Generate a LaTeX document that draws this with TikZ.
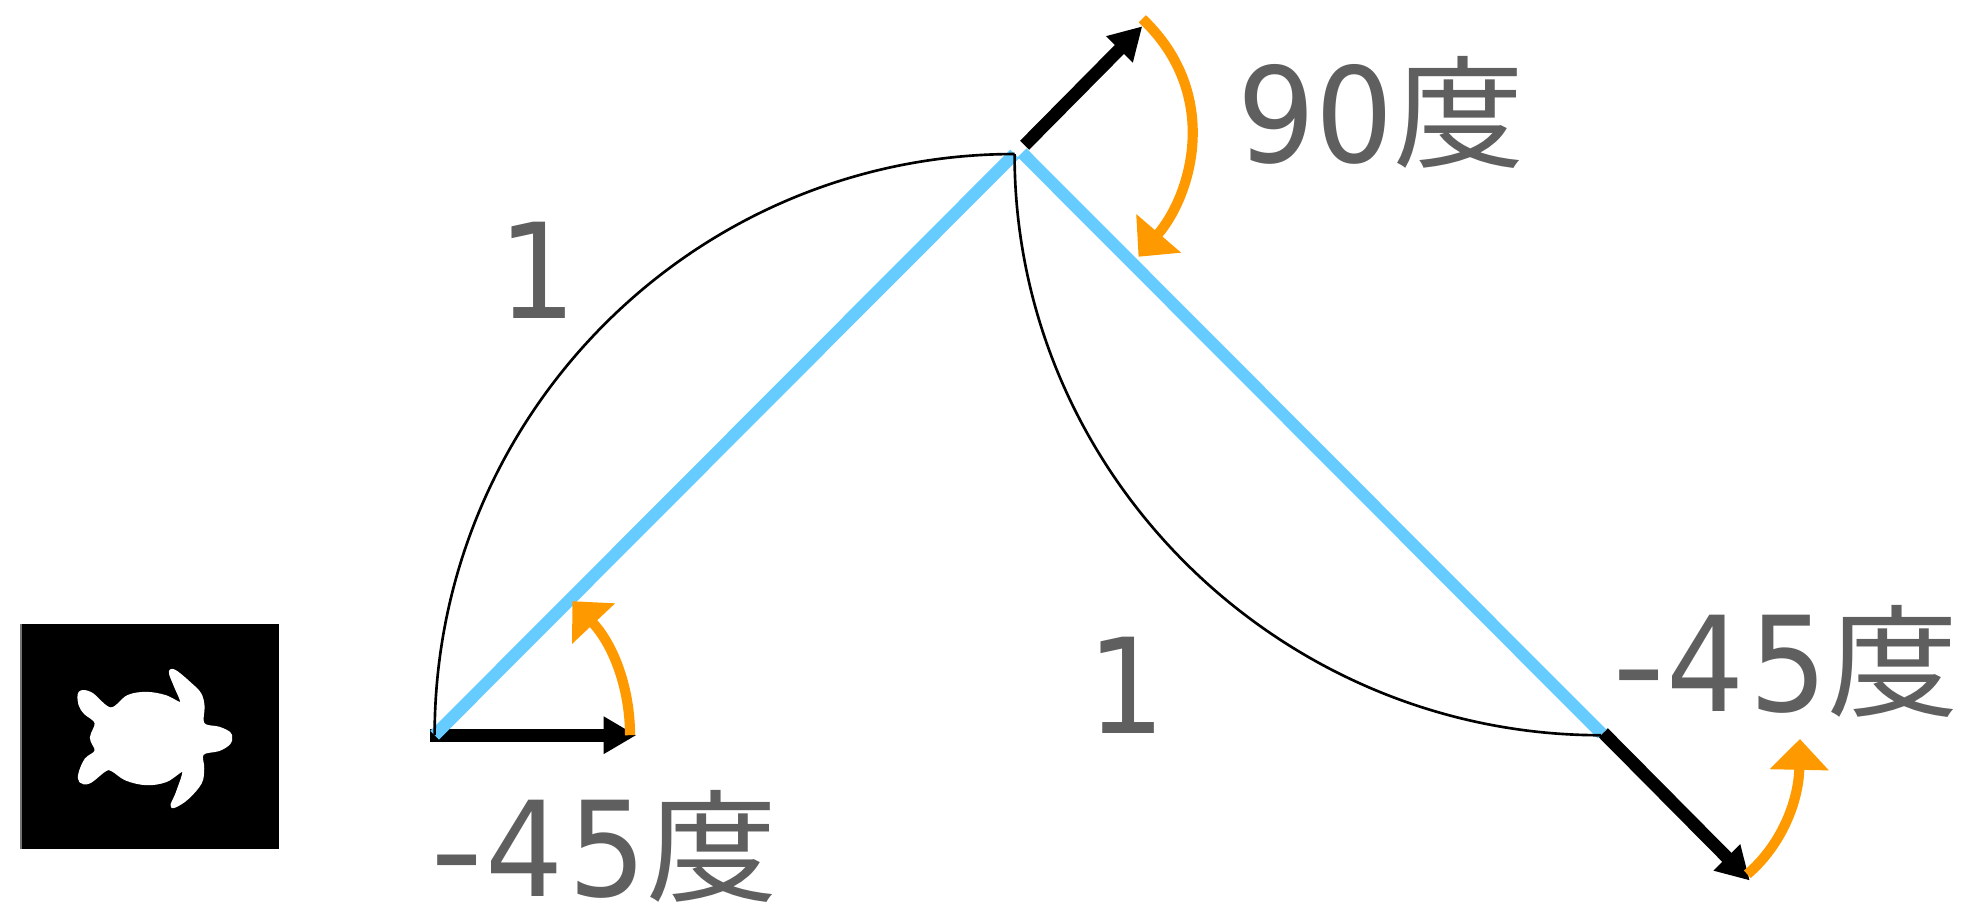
\documentclass[tikz,border=0pt]{standalone}
\usepackage{fontspec}
\usetikzlibrary{arrows.meta}
\newfontfamily\digfont[FakeStretch=0.93]{DejaVu Sans}
\newfontfamily\cjkfont[FakeStretch=1.08]{Noto Sans CJK JP}
\definecolor{labelgray}{HTML}{5F5F5F}
\definecolor{skyline}{HTML}{66CCFF}
\definecolor{orangearc}{HTML}{FF9900}
\newcommand{\dukanji}{{\fontsize{27.6}{30}\cjkfont\smash{\raisebox{0.9pt}{度}}}}
\newcommand{\widehyphen}{\scalebox{1.2}[1]{-}\kern0.3pt}
\tikzset{
  lbl/.style={anchor=base west,inner sep=0pt,outer sep=0pt,text=labelgray,font=\fontsize{30}{36}\digfont},
  skyseg/.style={draw=skyline,line width=2.8pt},
  quarter/.style={draw=black,line width=0.6pt},
  heading/.style={draw=black,line width=2.9pt,-{Triangle[length=7.4pt,width=8pt,fill=black]}},
  turn/.style={draw=orangearc,line width=2.3pt,-{Triangle[length=7pt,width=13pt,fill=orangearc]}}
}
\begin{document}
\begin{tikzpicture}[x=0.01cm,y=-0.01cm]
\useasboundingbox (0,0) rectangle (1568,722.5);
% turtle tile
\fill[black] (16,498) rectangle (223,678);
\fill[black!55] (16,498) rectangle (17.5,678);
\begin{scope}[shift={(31.13,517.05)},xscale=.2684,yscale=.275]
\filldraw[white,line width=0.7pt,line join=round] plot[smooth cycle,tension=.6] coordinates {
(570,262)(565,248)(535,234)(488,222)(488,170)(478,134)(448,104)(412,74)(394,66)(392,78)(406,112)(424,162)
(375,142)(320,133)(265,142)(213,178)(155,134)(122,131)(122,165)(138,190)(170,218)(156,262)(170,300)
(140,325)(122,365)(124,388)(150,390)(197,355)(218,355)(260,382)(320,395)(378,386)(430,356)(412,420)(396,456)
(405,460)(442,436)(480,392)(487,350)(486,308)(535,296)(565,278)};
\end{scope}
% coordinates
\coordinate (start) at (347,587);
\coordinate (apex) at (810,123);
\coordinate (apexb) at (816,122);
\coordinate (finish) at (1279,586);
\coordinate (h1a) at (343,587);
\coordinate (h1b) at (508,587);
\coordinate (h2a) at (818,116);
\coordinate (h2b) at (912,21);
\coordinate (h3a) at (1280,585);
\coordinate (h3b) at (1397,703);
\coordinate (t1a) at (503,587);
\coordinate (t1b) at (457,480);
\coordinate (t2a) at (912,15);
\coordinate (t2b) at (909,205);
\coordinate (t3a) at (1395,698);
\coordinate (t3b) at (1437,590);
% headings
\draw[heading] (h1a) -- (h1b);
\draw[heading] (h2a) -- (h2b);
\draw[heading] (h3a) -- (h3b);
% path segments
\draw[skyseg] (start) -- (apex);
\draw[skyseg] (apexb) -- (finish);
\draw[quarter] (start) .. controls (347,331) and (554,123) .. (apex);
\draw[quarter] (apex) .. controls (810,379) and (1022,587) .. (1278,587);
% turns
\draw[turn] (t1a) .. controls (503,550) and (490,515) .. (t1b);
\draw[turn] (t2a) .. controls (975,75) and (952,155) .. (t2b);
\draw[turn] (t3a) .. controls (1422,675) and (1436,640) .. (t3b);
% labels
\node[lbl] (one1) at (398,254) {1};
\node[lbl] (one2) at (868,586) {1};
\node[lbl] (ang90) at (988,130) {90\dukanji};
\node[lbl] (ang45a) at (344,716) {\widehyphen 4\kern1.1pt 5\dukanji};
\node[lbl] (ang45b) at (1287,568) {\widehyphen 4\kern1.1pt 5\dukanji};
\end{tikzpicture}
\end{document}
